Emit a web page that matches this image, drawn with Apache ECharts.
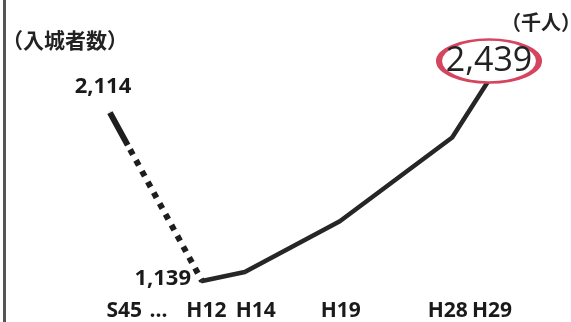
<!DOCTYPE html>
<html>
<head>
<meta charset="utf-8">
<script src="https://cdn.jsdelivr.net/npm/echarts@6/dist/echarts.min.js"></script>
<style>
html,body{margin:0;padding:0;background:#fff;}
#chart{width:571px;height:322px;}
</style>
</head>
<body>
<div id="chart"></div>
<script>
// Data
const pointLabels = ['S45', 'H12', 'H14', 'H19', 'H28', 'H29'];
const pointX = [1.04, 2.96, 3.85, 5.83, 8.17, 9.25];
const visitors = [2114, 1139, 1191, 1485, 1970, 2439];
const tickLabels = ['S45', '...', 'H12', 'H14', 'H19', 'H28', 'H29'];
const tickX = [1.34, 2.05, 3.05, 4.08, 5.85, 8.08, 9.0];
const unitLabel = '（入城者数）';
const unitRight = '（千人）';

function fmt(v) { return v.toLocaleString('en-US'); }

const gapData = [[pointX[0], visitors[0]], [pointX[1], visitors[1]]];
const mainData = pointX.slice(1).map((x, i) => [x, visitors[i + 1]]);
const last = mainData.length - 1;

const dash = [37, 5];
for (let i = 0; i < 14; i++) { dash.push(5.8, 6.5); }

const chart = echarts.init(document.getElementById('chart'), null, { renderer: 'canvas' });
chart.setOption({
  animation: false,
  backgroundColor: '#fff',
  grid: { left: 60, right: 31, top: 46, bottom: 16 },
  xAxis: {
    type: 'value', min: 0, max: 10,
    axisLine: { show: false }, axisTick: { show: false }, splitLine: { show: false },
    axisLabel: {
      customValues: tickX,
      formatter: v => tickLabels[tickX.indexOf(v)],
      margin: -4,
      fontFamily: 'Open Sans', fontWeight: 'bold', fontSize: 21, lineHeight: 21,
      color: '#1a1a1a'
    }
  },
  yAxis: {
    type: 'value', min: 1000, max: 2500,
    show: false
  },
  series: [
    {
      type: 'line',
      data: gapData,
      showSymbol: true, symbolSize: 0.1,
      lineStyle: { color: '#1e1e1e', width: 6, type: dash, cap: 'butt' },
      label: {
        show: true,
        formatter: p => p.dataIndex === 0 ? fmt(p.value[1]) : '',
        position: 'top', distance: 14, offset: [-7, 0],
        fontFamily: 'Open Sans', fontWeight: 'bold', fontSize: 22, lineHeight: 22,
        color: '#1a1a1a'
      },
      z: 2
    },
    {
      type: 'line',
      data: mainData,
      showSymbol: true, symbolSize: 0.1,
      lineStyle: { color: '#262626', width: 4.5, cap: 'round', join: 'round' },
      label: {
        show: true,
        formatter: p => p.dataIndex === 0 ? fmt(p.value[1]) : '',
        position: 'left', distance: 10, offset: [0, -2.5],
        fontFamily: 'Open Sans', fontWeight: 'bold', fontSize: 22, lineHeight: 22,
        color: '#1a1a1a'
      },
      markPoint: {
        symbol: 'circle',
        symbolSize: [100, 43],
        symbolOffset: [-15, 4.5],
        itemStyle: { color: '#fff', borderColor: '#d4465f', borderWidth: 4 },
        label: {
          show: true, position: 'inside',
          formatter: p => fmt(p.value),
          fontFamily: 'Open Sans', fontSize: 34, color: '#222'
        },
        data: [{ coord: mainData[last], value: mainData[last][1] }]
      },
      z: 3
    }
  ],
  graphic: [
    { type: 'line', shape: { x1: 4.5, y1: 0, x2: 4.5, y2: 322 }, style: { stroke: '#555', lineWidth: 3 } },
    { type: 'text', left: 2, top: 30, style: { text: unitLabel, font: 'bold 21px "Noto Sans CJK JP"', fill: '#222' } },
    { type: 'text', left: 501, top: 12, style: { text: unitRight, font: 'bold 20px "Noto Sans CJK JP"', fill: '#222' } }
  ]
});
</script>
</body>
</html>
